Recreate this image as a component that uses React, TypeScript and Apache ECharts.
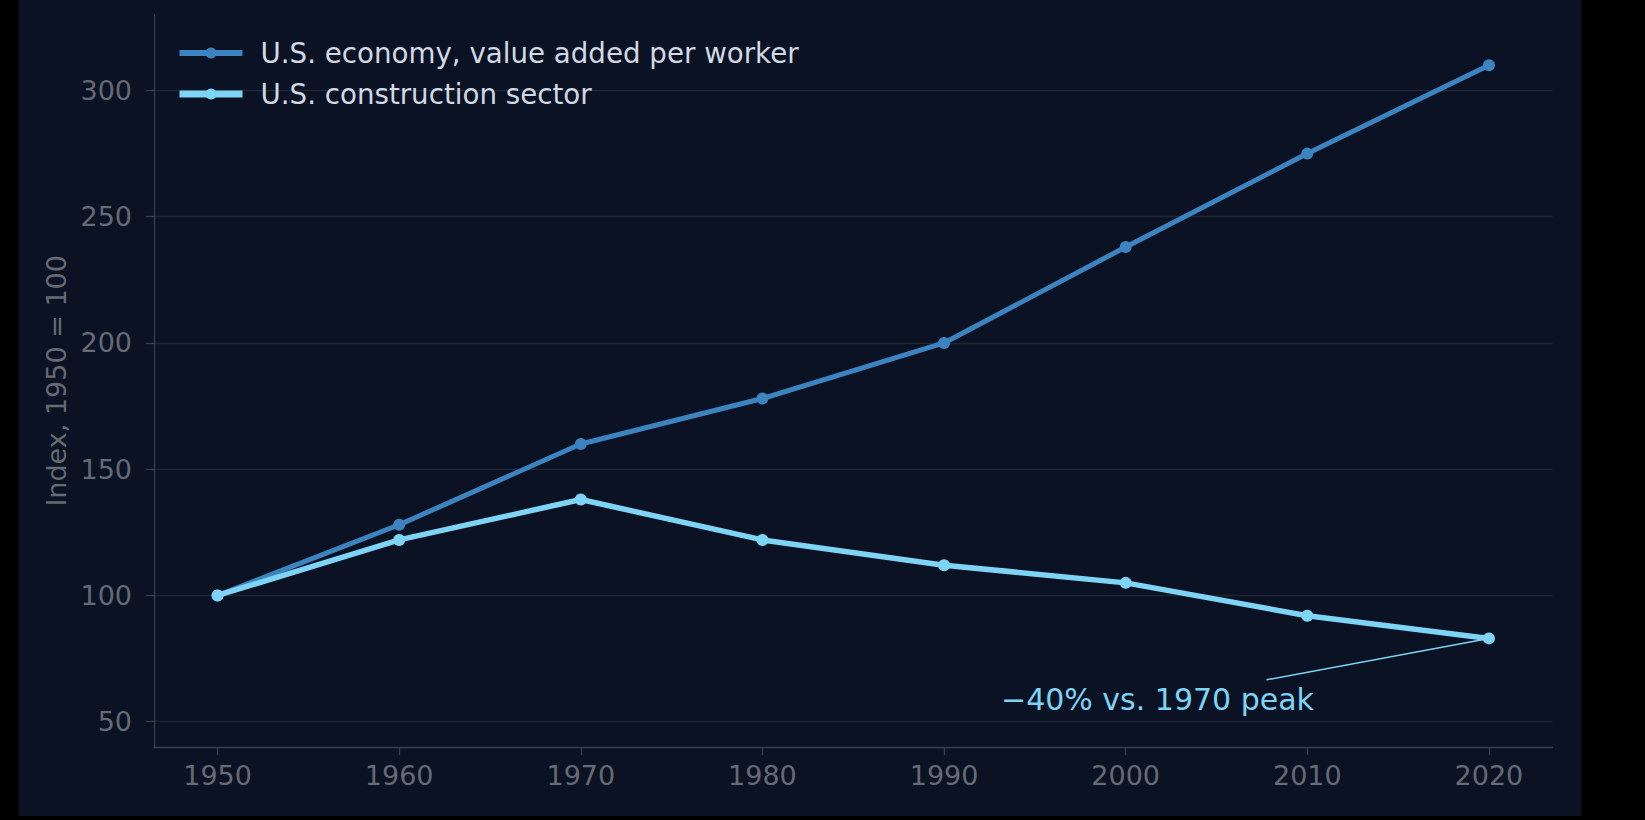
import React, { useEffect, useRef } from "react";
import * as echarts from "echarts";

const years = [1950, 1960, 1970, 1980, 1990, 2000, 2010, 2020];
const economy = [100, 128, 160, 178, 200, 238, 275, 310];
const construction = [100, 122, 138, 122, 112, 105, 92, 83];
const yTicks = [50, 100, 150, 200, 250, 300];
const seriesNames = ["U.S. economy, value added per worker", "U.S. construction sector"];
const annotationText = "\u221240% vs. 1970 peak";
const annotationTail = [2007.75, 66.6];

const FONT = "DejaVu Sans";
const BG = "#0a1224";
const C_ECON = "#3b84bf";
const C_CONS = "#7dd4f4";
const TICK_COLOR = "#666a73";
const AXIS_COLOR = "#3a3e47";
const GRID_COLOR = "#1f2632";

export default function App() {
  const ref = useRef<HTMLDivElement>(null);
  useEffect(() => {
    if (!ref.current) return;
    const chart = echarts.init(ref.current, undefined, { renderer: "svg" });
    const last = years.length - 1;
    chart.setOption({
      animation: false,
      backgroundColor: "#000000",
      graphic: [
        {
          type: "rect",
          z: -10,
          silent: true,
          shape: { x: 19, y: 0, width: 1562, height: 816 },
          style: { fill: BG },
        },
        {
          type: "text",
          z: 10,
          x: 1001,
          y: 699,
          style: {
            text: annotationText,
            fill: C_CONS,
            font: `30px "${FONT}"`,
            align: "left",
            verticalAlign: "middle",
          },
        },
      ],
      grid: { left: 154, right: 92.5, top: 14.7, bottom: 73, containLabel: false },
      legend: {
        orient: "vertical",
        left: 176,
        top: 39,
        padding: 0,
        itemWidth: 63,
        itemHeight: 14,
        itemGap: 13,
        textStyle: {
          color: "#d2d9e4",
          fontSize: 27.7,
          fontFamily: FONT,
          padding: [0, 0, 0, 13],
        },
        data: [
          { name: seriesNames[0], lineStyle: { width: 6, color: C_ECON }, itemStyle: { color: C_ECON } },
          { name: seriesNames[1], lineStyle: { width: 7, color: C_CONS }, itemStyle: { color: C_CONS } },
        ],
      },
      xAxis: {
        type: "value",
        min: 1946.5,
        max: 2023.5,
        axisLine: { show: true, lineStyle: { color: AXIS_COLOR, width: 1.3 } },
        axisTick: {
          show: true,
          length: 8,
          lineStyle: { color: AXIS_COLOR, width: 1.3 },
          customValues: years,
        },
        axisLabel: {
          color: TICK_COLOR,
          fontSize: 27,
          fontFamily: FONT,
          margin: 15,
          customValues: years,
          formatter: (v: number) => String(v),
        },
        splitLine: { show: false },
      },
      yAxis: {
        type: "value",
        min: 40,
        max: 330,
        name: "Index, 1950 = 100",
        nameLocation: "middle",
        nameGap: 82,
        nameRotate: 90,
        nameTextStyle: { color: TICK_COLOR, fontSize: 27, fontFamily: FONT },
        axisLine: { show: true, lineStyle: { color: AXIS_COLOR, width: 1.3 } },
        axisTick: {
          show: true,
          length: 8,
          lineStyle: { color: AXIS_COLOR, width: 1.3 },
          customValues: yTicks,
        },
        axisLabel: {
          color: TICK_COLOR,
          fontSize: 27,
          fontFamily: FONT,
          margin: 22,
          customValues: yTicks,
        },
        splitLine: { show: true, lineStyle: { color: GRID_COLOR, width: 1.3 } },
      },
      series: [
        {
          name: seriesNames[0],
          type: "line",
          z: 3,
          data: years.map((y, i) => [y, economy[i]]),
          symbol: "circle",
          symbolSize: 12,
          showAllSymbol: true,
          lineStyle: { color: C_ECON, width: 5 },
          itemStyle: { color: C_ECON },
        },
        {
          name: seriesNames[1],
          type: "line",
          z: 4,
          data: years.map((y, i) => [y, construction[i]]),
          symbol: "circle",
          symbolSize: 12,
          showAllSymbol: true,
          lineStyle: { color: C_CONS, width: 5.5 },
          itemStyle: { color: C_CONS },
          markLine: {
            silent: true,
            symbol: ["none", "none"],
            label: { show: false },
            lineStyle: { color: C_CONS, width: 1.5, type: "solid" },
            data: [
              [
                { coord: [years[last], construction[last]] },
                { coord: annotationTail },
              ],
            ],
          },
        },
      ],
    });
    return () => chart.dispose();
  }, []);
  return (
    <div
      ref={ref}
      style={{ position: "fixed", left: 0, top: 0, width: 1645, height: 820 }}
    />
  );
}
